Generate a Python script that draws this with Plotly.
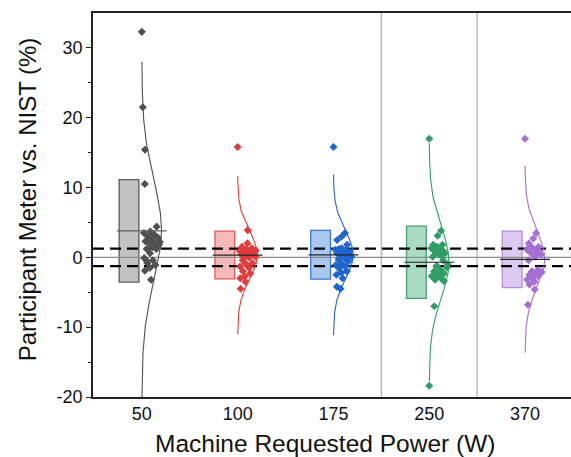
import numpy as np
import plotly.graph_objects as go

# ---- data ----
categories = ["50", "100", "175", "250", "370"]

g50 = [32.3, 21.5, 15.4, 10.5, 4.4, 3.7, 3.5, 3.2, 3.0, 2.8, 2.5, 2.3, 2.0, 2.0, 1.8,
       1.5, 1.2, 1.2, 0.6, -0.1, -0.4, -0.8, -1.1, -1.5, -1.9, -3.2, 2.6, 2.2, 3.3, -0.5]
g100 = [15.8, 3.9, 2.0, 1.5, 1.3, 1.1, 0.9, 0.8, 0.8, 0.6, 0.5, 0.4, 0.3, 0.1, 0.1,
        0.0, -0.4, -0.8, -1.0, -1.3, -1.5, -2.0, -2.3, -2.7, -3.0, -3.5, -4.5, 1.0, 0.7, 1.2]
g175 = [15.8, 3.5, 3.0, 2.5, 1.8, 1.3, 1.1, 1.0, 0.9, 0.8, 0.6, 0.6, 0.4, 0.2, 0.1,
        -0.1, -0.3, -0.6, -0.9, -1.1, -1.3, -1.6, -2.0, -2.2, -2.5, -3.0, -4.2, -4.5, 0.5, 1.2]
g250 = [17.0, 3.8, 3.1, 1.8, 1.8, 1.5, 1.3, 1.0, 0.8, 0.6, 0.4, 0.1, -0.4, -1.2, -1.5,
        -1.8, -2.0, -2.3, -2.5, -2.7, -3.0, -3.2, -3.4, -7.0, -18.4, 0.9, -2.8, -1.0, 0.3, -2.1]
g370 = [17.0, 3.5, 2.7, 2.0, 1.5, 1.3, 1.1, 0.8, 0.6, 0.4, 0.1, -0.4, -1.8, -2.0, -2.2,
        -2.3, -2.5, -2.7, -3.0, -3.2, -3.5, -3.9, -4.6, -6.8, 1.0, 0.9, -2.6, -2.1, 0.5, 1.6]
groups = [g50, g100, g175, g250, g370]

y_ticks = [-20, -10, 0, 10, 20, 30]
y_tick_labels = ["-20", "-10", "0", "10", "20", "30"]
tolerance = 1.25          # dashed reference band (+/- %)
separators = [2.5, 3.5]   # vertical grey separator lines (category units)

# ---- styles ----
point_colors = ["#505050", "#e23b3b", "#1e66cf", "#2f9e66", "#a66fd6"]
box_fills = ["#c2c2c2", "#f6b9b9", "#a9c7ef", "#a9dcc0", "#dccaf2"]
box_lines = ["#5a5a5a", "#e25a5a", "#3b79cf", "#45a374", "#b48cdc"]
mean_colors = ["#606060", "#222222", "#222222", "#222222", "#222222"]

BOX_OFF, BOX_W = -0.134, 0.206
CURVE_W = 0.205
MEAN_HALF = 0.26
XR = [-0.51, 4.48]

fig = go.Figure()

stats = []
for i, g in enumerate(groups):
    a = np.array(g, dtype=float)
    m, s = a.mean(), a.std(ddof=1)
    stats.append((m, s))
    fig.add_trace(go.Bar(x=[i + BOX_OFF], y=[2 * s], base=[m - s], width=BOX_W,
                         marker=dict(color=box_fills[i], line=dict(color=box_lines[i], width=1.3)),
                         showlegend=False, hoverinfo="skip"))

# reference lines
fig.add_trace(go.Scatter(x=XR, y=[0, 0], mode="lines", line=dict(color="#8c8c8c", width=1.2),
                         showlegend=False, hoverinfo="skip"))
for yv in (tolerance, -tolerance):
    fig.add_trace(go.Scatter(x=XR, y=[yv, yv], mode="lines",
                             line=dict(color="black", width=2.2, dash="11px,6px"),
                             showlegend=False, hoverinfo="skip"))

for i, g in enumerate(groups):
    a = np.array(g, dtype=float)
    m, s = stats[i]
    yy = np.linspace(m - 3.3 * s, m + 3.3 * s, 200)
    pdf = np.exp(-0.5 * ((yy - m) / s) ** 2)
    fig.add_trace(go.Scatter(x=i + CURVE_W * pdf, y=yy, mode="lines",
                             line=dict(color=point_colors[i], width=1.1),
                             showlegend=False, hoverinfo="skip"))
    k = np.arange(len(a))
    frac = 0.1 + 0.85 * ((k * 0.618034 + 0.3) % 1.0)
    dens = np.exp(-0.5 * ((a - m) / s) ** 2)
    fig.add_trace(go.Scatter(x=i + CURVE_W * dens * frac, y=a, mode="markers",
                             marker=dict(symbol="diamond", size=6.2, color=point_colors[i]),
                             showlegend=False))
    fig.add_trace(go.Scatter(x=[i - MEAN_HALF, i + MEAN_HALF], y=[m, m], mode="lines",
                             line=dict(color=mean_colors[i], width=1.2),
                             showlegend=False, hoverinfo="skip"))

for xv in separators:
    fig.add_shape(type="line", x0=xv, x1=xv, y0=0, y1=1, xref="x", yref="paper",
                  line=dict(color="#b4b4b4", width=1.3), layer="below")

fig.add_annotation(text="Machine Requested Power (W)", xref="paper", yref="paper",
                   x=0.485, y=-0.122, xanchor="center", yanchor="middle", showarrow=False,
                   font=dict(size=24.5))
fig.add_annotation(text="Participant Meter vs. NIST (%)", xref="paper", yref="paper",
                   x=-0.138, y=0.515, xanchor="center", yanchor="middle", showarrow=False,
                   textangle=-90, font=dict(size=24))

fig.update_layout(
    width=571, height=457,
    margin=dict(l=93, r=0, t=13, b=60),
    plot_bgcolor="white", paper_bgcolor="white",
    barmode="overlay",
    font=dict(family="Liberation Sans, Arial", color="#111111"),
    xaxis=dict(range=XR, tickvals=list(range(len(categories))), ticktext=categories,
               showline=True, linecolor="#222222", linewidth=1.6, mirror=True,
               ticks="", showgrid=False, zeroline=False, automargin=False,
               tickfont=dict(size=18)),
    yaxis=dict(range=[-20, 35], tickvals=y_ticks, ticktext=y_tick_labels,
               showline=True, linecolor="#222222", linewidth=1.6,
               ticks="outside", ticklen=5, tickwidth=1.3, tickcolor="#222222",
               minor=dict(tickvals=[-15, -5, 5, 15, 25], ticks="outside", ticklen=3,
                          tickwidth=1.1, tickcolor="#222222"),
               showgrid=False, zeroline=False, automargin=False,
               tickfont=dict(size=18)),
)

fig.write_html("out.html", config={"displayModeBar": False},
               post_script="document.body.style.margin='0';")
